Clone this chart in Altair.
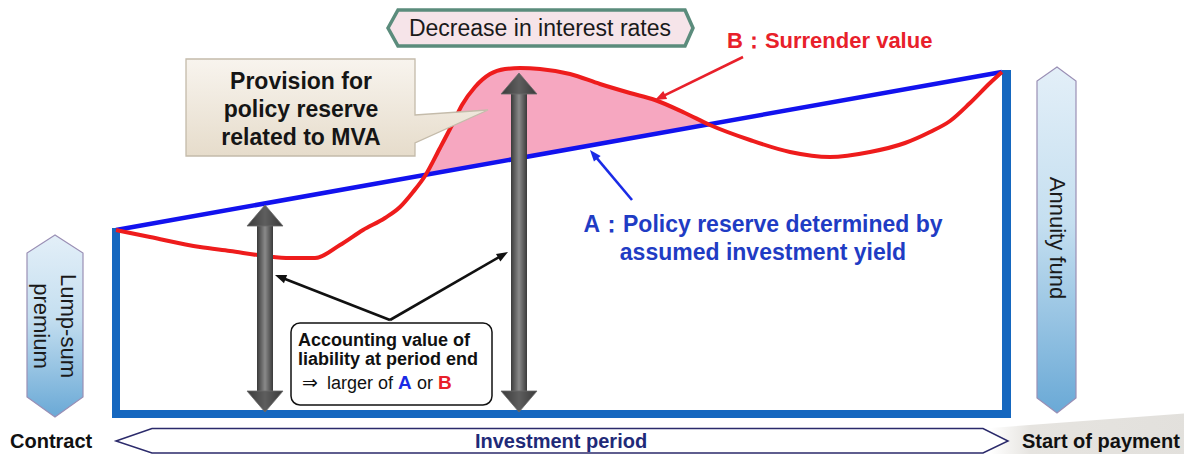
import altair as alt
import pandas as pd
import numpy as np

# ---------------- data (page-pixel coordinates of the conceptual diagram) ----------------
# A: policy reserve determined by assumed investment yield (straight line)
A_x = [116, 1002]
A_y = [230, 72]
# B: surrender value curve
B_x = [116, 150, 200, 230, 265, 290, 315, 340, 363, 385, 400, 413, 425, 440, 452, 462, 475,
       490, 505, 520, 540, 570, 600, 630, 655, 685, 710, 750, 790, 830, 870, 905, 930, 950,
       970, 990, 1002]
B_y = [230, 237, 247, 251, 256, 258, 258, 245, 230, 218, 207, 192, 176, 148, 125, 105, 87,
       74, 69, 68, 69, 74, 84, 93, 100, 113, 125, 140, 152, 157, 152, 143, 132, 121,
       103, 83, 72]
# crossing range where B exceeds A (provision related to MVA)
MVA_from, MVA_to = 425, 710

# accounting-value double arrows (period ends)
arrow_x = [265, 519]
arrow_top = [205, 73]
arrow_bottom = [412, 412]

# thin pointer arrows: start -> tip
ptr_x0 = [390, 390, 743, 632]
ptr_y0 = [320, 320, 57, 200]
ptr_x1 = [275, 508, 655, 590]
ptr_y1 = [275, 252, 100, 150]
ptr_col = ["#111111", "#111111", "#E8202A", "#1A2BE6"]

FONT = "Liberation Sans"
BLUE_LINE = "#1212EE"
RED = "#EE1C1C"
FRAME = "#1567BF"
TXT_BLUE = "#1F3CC4"
TXT_RED = "#E8202A"

xs = alt.Scale(domain=[8, 1184], nice=False, zero=False)
ys = alt.Scale(domain=[8, 454], nice=False, zero=False, reverse=True)


def enc(x="x", y="y", x2=None, y2=None, **kw):
    d = dict(x=alt.X(f"{x}:Q", scale=xs, axis=None),
             y=alt.Y(f"{y}:Q", scale=ys, axis=None))
    if x2:
        d["x2"] = alt.X2(f"{x2}:Q")
    if y2:
        d["y2"] = alt.Y2(f"{y2}:Q")
    d.update(kw)
    return d


def grad(stops, vertical=True):
    return alt.LinearGradient(
        gradient="linear",
        stops=[alt.GradientStop(color=c, offset=o) for o, c in stops],
        x1=0, y1=0, x2=0 if vertical else 1, y2=1 if vertical else 0)


layers = []

# shadow behind "Start of payment"
shadow = pd.DataFrame({"x": [990, 1192], "y": [428, 413], "y2": [462, 462]})
layers.append(alt.Chart(shadow).mark_area(
    orient="vertical",
    fill=grad([(0, "#ffffff"), (0.2, "#e6e4e0"), (1, "#e2e0dc")], vertical=False)
).encode(**enc(y2="y2")))

# investment period arrow
inv = pd.DataFrame({"x": [116, 152, 983, 1008], "y": [441, 428.5, 428.5, 441], "y2": [441, 453, 453, 441]})
layers.append(alt.Chart(inv).mark_area(orient="vertical", fill="white", stroke="#2B2A6B",
                                       strokeWidth=1.5).encode(**enc(y2="y2")))

# vertical hexagon arrows (lump-sum premium / annuity fund)
vhex = pd.DataFrame({
    "id": ["L"] * 4 + ["R"] * 4,
    "y": [235, 253, 397, 417, 67, 81, 398, 413],
    "x": [55, 27, 27, 55, 1057, 1037, 1037, 1057],
    "x2": [55, 83, 83, 55, 1057, 1076, 1076, 1057],
})
layers.append(alt.Chart(vhex).mark_area(
    orient="horizontal",
    fill=grad([(0, "#E3EFF8"), (0.45, "#C5DFF0"), (1, "#6AA9D6")]),
    stroke="#9A8FB5", strokeWidth=1.2
).encode(**enc(x2="x2", detail="id:N")))

# blue frame (left, bottom, right sides)
frame = pd.DataFrame({"x": [112, 112, 1002], "x2": [120, 1011, 1011],
                      "y": [228, 410, 70], "y2": [418, 418, 418]})
layers.append(alt.Chart(frame).mark_rect(color=FRAME).encode(**enc(x2="x2", y2="y2")))

# pink MVA region between B and A
bdf = pd.DataFrame({"x": B_x, "y": B_y})
mva = bdf[(bdf.x >= MVA_from) & (bdf.x <= MVA_to)]
slope = (A_y[1] - A_y[0]) / (A_x[1] - A_x[0])
layers.append(alt.Chart(mva).transform_calculate(
    yA=f"{A_y[0]} + (datum.x - {A_x[0]}) * {slope}"
).mark_area(orient="vertical", interpolate="monotone", color="#F6A7C0", opacity=1
            ).encode(**enc(y2="yA")))

# line A
layers.append(alt.Chart(pd.DataFrame({"x": A_x, "y": A_y})).mark_line(
    color=BLUE_LINE, strokeWidth=4.5).encode(**enc()))
# line B
layers.append(alt.Chart(bdf).mark_line(
    color=RED, strokeWidth=4, interpolate="monotone").encode(**enc()))

# gray double arrows
HEAD_H, HEAD_W, SHAFT_W = 21, 18, 8
heads = []
shafts = []
for i, (cx, t, b) in enumerate(zip(arrow_x, arrow_top, arrow_bottom)):
    heads += [dict(id=f"t{i}", x=cx - HEAD_W, y=t + HEAD_H, y2=t + HEAD_H),
              dict(id=f"t{i}", x=cx, y=t, y2=t + HEAD_H),
              dict(id=f"t{i}", x=cx + HEAD_W, y=t + HEAD_H, y2=t + HEAD_H),
              dict(id=f"b{i}", x=cx - HEAD_W, y=b - HEAD_H, y2=b - HEAD_H),
              dict(id=f"b{i}", x=cx, y=b, y2=b - HEAD_H),
              dict(id=f"b{i}", x=cx + HEAD_W, y=b - HEAD_H, y2=b - HEAD_H)]
    shafts.append(dict(x=cx - SHAFT_W, x2=cx + SHAFT_W, y=t + HEAD_H - 1, y2=b - HEAD_H + 1))
layers.append(alt.Chart(pd.DataFrame(shafts)).mark_rect(
    fill=grad([(0, "#3a3a3a"), (0.5, "#8a8a8a"), (1, "#3a3a3a")], vertical=False)
).encode(**enc(x2="x2", y2="y2")))
layers.append(alt.Chart(pd.DataFrame(heads)).mark_area(
    orient="vertical",
    fill=grad([(0, "#3a3a3a"), (0.5, "#5e5e5e"), (1, "#3a3a3a")], vertical=False),
    stroke="#6a6a6a", strokeWidth=0.8
).encode(**enc(y2="y2", detail="id:N")))

# thin pointer arrows
px0, py0, px1, py1 = map(np.array, (ptr_x0, ptr_y0, ptr_x1, ptr_y1))
dx, dy = px1 - px0, py1 - py0
ln = np.hypot(dx, dy)
ang = (np.degrees(np.arctan2(dx, -dy)) + 360) % 360
ex, ey = px1 - 6 * dx / ln, py1 - 6 * dy / ln
plines = []
for i in range(len(ptr_x0)):
    plines.append(dict(id=i, x=float(px0[i]), y=float(py0[i]), col=ptr_col[i]))
    plines.append(dict(id=i, x=float(ex[i]), y=float(ey[i]), col=ptr_col[i]))
layers.append(alt.Chart(pd.DataFrame(plines)).mark_line(strokeWidth=2.6).encode(
    **enc(color=alt.Color("col:N", scale=None), detail="id:N")))
ptips = pd.DataFrame({"x": ptr_x1, "y": ptr_y1, "col": ptr_col, "ang": ang})
layers.append(alt.Chart(ptips).mark_point(
    shape="M0,0L0.48,1.25L-0.48,1.25Z", filled=True, opacity=1, size=330, strokeWidth=0
).encode(**enc(color=alt.Color("col:N", scale=None), angle=alt.Angle("ang:Q", scale=None))))

# callout: provision for policy reserve related to MVA
call = pd.DataFrame({"x": [186, 415, 415.01, 488], "y": [59, 59, 115, 110], "y2": [156, 156, 143, 110]})
layers.append(alt.Chart(call).mark_area(
    orient="vertical",
    fill=grad([(0, "#F8F4EE"), (1, "#E6DCCB")]),
    stroke="#C4BBAA", strokeWidth=1.3
).encode(**enc(y2="y2")))

# decrease in interest rates box
dec = pd.DataFrame({"x": [388, 398, 685, 693], "y": [28, 10, 10, 28], "y2": [28, 46, 46, 28]})
layers.append(alt.Chart(dec).mark_area(orient="vertical", fill="#F6E4E9", stroke="#5B8C7C",
                                       strokeWidth=3.5).encode(**enc(y2="y2")))

# accounting value box
acc = pd.DataFrame({"x": [291], "x2": [492], "y": [323], "y2": [405]})
layers.append(alt.Chart(acc).mark_rect(fill="white", stroke="#111111", strokeWidth=1.5,
                                       cornerRadius=9).encode(**enc(x2="x2", y2="y2")))


# ---------------- texts ----------------
def text_layer(rows, **props):
    df = pd.DataFrame(rows, columns=["x", "y", "t"])
    base = dict(font=FONT, baseline="alphabetic")
    base.update(props)
    return alt.Chart(df).mark_text(**base).encode(**enc(text="t:N"))


layers.append(text_layer([(540, 36, "Decrease in interest rates")],
                         fontSize=23, align="center", color="#1a1a1a"))
layers.append(text_layer([(301, 88.5, "Provision for\npolicy reserve\nrelated to MVA")],
                         fontSize=23, fontWeight="bold", align="center", color="#151515",
                         lineBreak="\n", lineHeight=28.3))
layers.append(text_layer([(727, 48, "B：Surrender value")],
                         fontSize=22, fontWeight="bold", align="left", color=TXT_RED))
layers.append(text_layer([(763, 231.5, "A：Policy reserve determined by\nassumed investment yield")],
                         fontSize=23, fontWeight="bold", align="center", color=TXT_BLUE,
                         lineBreak="\n", lineHeight=28))
layers.append(text_layer([(298, 346, "Accounting value of"), (298, 365, "liability at period end")],
                         fontSize=18, fontWeight="bold", align="left", color="#111111"))
layers.append(text_layer([(302, 389, "⇒")], font="DejaVu Sans", fontSize=19, align="left",
                         color="#111111"))
layers.append(text_layer([(327, 389, "larger of"), (417, 389, "or")],
                         fontSize=18, align="left", color="#111111"))
layers.append(text_layer([(398, 389, "A")], fontSize=19, fontWeight="bold", align="left", color="#1A2BE6"))
layers.append(text_layer([(438, 389, "B")], fontSize=19, fontWeight="bold", align="left", color=TXT_RED))
layers.append(text_layer([(10, 448, "Contract"), (1022, 448, "Start of payment")],
                         fontSize=20, fontWeight="bold", align="left", color="#111111"))
layers.append(text_layer([(561, 448, "Investment period")],
                         fontSize=20, fontWeight="bold", align="center", color="#1F2A78"))
layers.append(text_layer([(68, 326, "Lump-sum\npremium"), (1057, 238, "Annuity fund")],
                         fontSize=22, align="center", baseline="middle", angle=90,
                         lineBreak="\n", lineHeight=27, color="#1a1a1a"))

chart = alt.layer(*layers).properties(
    width=1176, height=446, padding=0,
    autosize=alt.AutoSizeParams(type="none"),
    background="white",
).configure_view(strokeWidth=0)

chart.save("out.html", embed_options={"renderer": "svg", "actions": False})
